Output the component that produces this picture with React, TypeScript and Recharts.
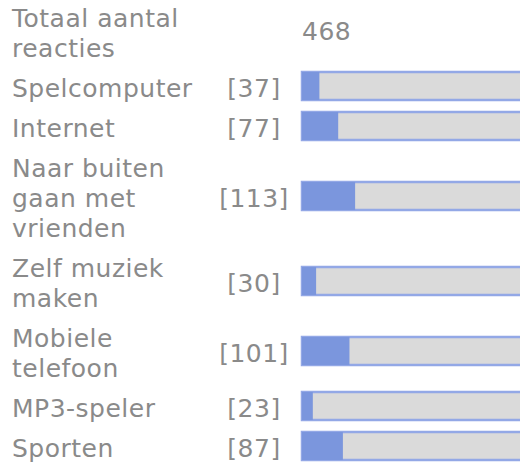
import { BarChart, Bar, XAxis, YAxis } from 'recharts'

// poll results (Dutch), total shown in the header row
const totalLabel = 'Totaal aantal\nreacties'
const total = 468
const answers = [
  'Spelcomputer',
  'Internet',
  'Naar buiten\ngaan met\nvrienden',
  'Zelf muziek\nmaken',
  'Mobiele\ntelefoon',
  'MP3-speler',
  'Sporten',
]
const votes = [37, 77, 113, 30, 101, 23, 87]

const W = 520
const H = 462
const LINE = 30
const GAP = 10
const FONT = '"DejaVu Sans", Verdana, sans-serif'
const TEXT = '#8a8a8a'

// row centres follow from the number of text lines in each label
const allLabels = [totalLabel, ...answers]
const centres: number[] = []
let top = 1
allLabels.forEach((l) => {
  const n = l.split('\n').length
  centres.push(top + (n * LINE) / 2)
  top += n * LINE + GAP
})

const data = answers.map((name, i) => ({ name, votes: votes[i], y: centres[i + 1] }))

function RowTick(props: any) {
  const { y, payload } = props
  const idx = centres.indexOf(payload.value)
  if (idx < 0) return null
  const lines = allLabels[idx].split('\n')
  const isHead = idx === 0
  return (
    <g fontFamily={FONT} fontSize={25} fill={TEXT} letterSpacing={0.5}>
      {lines.map((ln, k) => (
        <text key={k} x={12} y={y + 11 + (k - (lines.length - 1) / 2) * LINE}>
          {ln}
        </text>
      ))}
      {isHead ? (
        <text x={302} y={y + 9}>{total}</text>
      ) : (
        <text x={254} y={y + 11} textAnchor="middle">[{votes[idx - 1]}]</text>
      )}
    </g>
  )
}

export default function App() {
  return (
    <div style={{ position: 'absolute', left: 0, top: 0, width: W, height: H, background: '#fff' }}>
      <BarChart
        width={W}
        height={H}
        data={data}
        layout="vertical"
        margin={{ top: 0, right: -2, bottom: 0, left: 0 }}
      >
        <XAxis type="number" domain={[0, total]} hide />
        <YAxis
          type="number"
          dataKey="y"
          domain={[0, H]}
          width={302}
          ticks={centres}
          tick={<RowTick />}
          axisLine={false}
          tickLine={false}
          interval={0}
        />
        <Bar
          dataKey="votes"
          barSize={28}
          fill="#7b96dd"
          background={{ fill: '#dadada', stroke: '#93a8e6', strokeWidth: 2.5 }}
          isAnimationActive={false}
        />
      </BarChart>
    </div>
  )
}
